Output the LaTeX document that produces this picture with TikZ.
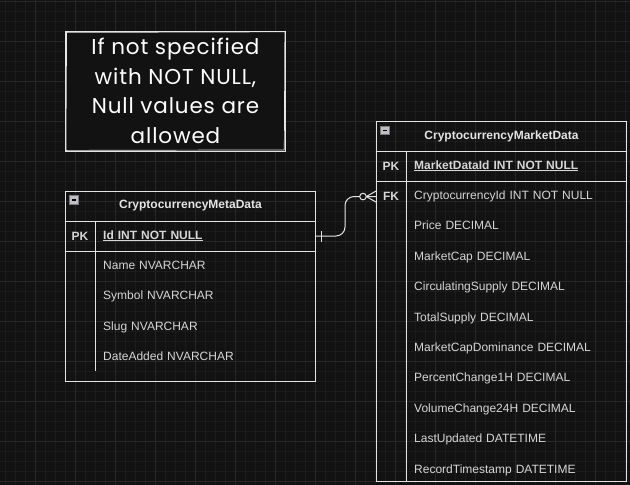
\documentclass[tikz,border=0pt]{standalone}
\usepackage{fontspec}
\setmainfont{Liberation Sans}
\newfontfamily\notefont[LetterSpace=4]{Poppins}
\usetikzlibrary{positioning, calc}
\definecolor{canvas}{RGB}{18,18,18}
\definecolor{gridminor}{RGB}{28,28,28}
\definecolor{gridmajor}{RGB}{40,40,40}
\definecolor{ink}{RGB}{228,228,228}
\definecolor{inktext}{RGB}{214,214,214}
\definecolor{togglefill}{RGB}{190,190,196}
\definecolor{toggleedge}{RGB}{120,120,130}
\tikzset{
    tableframe/.style={draw=ink, line width=1pt},
    title/.style={font=\fontsize{12pt}{14pt}\selectfont\bfseries, text=ink, inner sep=0pt},
    keylabel/.style={font=\fontsize{12pt}{14pt}\selectfont\bfseries, text=inktext, inner sep=0pt},
    field/.style={font=\fontsize{12pt}{14pt}\selectfont, text=inktext, text width=200pt, align=left,
        text height=9pt, text depth=3pt, inner sep=0pt, minimum height=30pt},
    keyfield/.style={field, font=\fontsize{12pt}{14pt}\selectfont\bfseries},
    toggle/.style={draw=toggleedge, fill=togglefill, line width=0.6pt, minimum size=8.5pt, inner sep=0pt,
        path picture={\draw[black, line width=1.3pt] ([xshift=1.8pt]path picture bounding box.west) -- ([xshift=-1.8pt]path picture bounding box.east);}},
    notebox/.style={draw=ink, line width=0.8pt, fill=canvas, align=center, text=white!92,
        font=\notefont\fontsize{21.5pt}{29.5pt}\selectfont, minimum width=220pt, minimum height=120pt},
    sketch/.style={draw=ink!80, line width=0.7pt, line join=round},
    link/.style={draw=ink, line width=1pt}
}

\begin{document}
\begin{tikzpicture}[x=1pt, y=-1pt]
    % canvas and grid
    \fill[canvas] (0,0) rectangle (630,485);
    \useasboundingbox (0,0) rectangle (630,485);
    \foreach \x in {5.7,15.7,...,625.7} \draw[gridminor, line width=0.6pt] (\x,0) -- (\x,485);
    \foreach \y in {1.7,11.7,...,481.7} \draw[gridminor, line width=0.6pt] (0,\y) -- (630,\y);
    \foreach \x in {35.7,75.7,...,595.7} \draw[gridmajor, line width=0.6pt] (\x,0) -- (\x,485);
    \foreach \y in {1.7,41.7,...,481.7} \draw[gridmajor, line width=0.6pt] (0,\y) -- (630,\y);

    % note
    \node (note) [notebox] at (175.5,91) {If not specified\\with NOT NULL,\\Null values are\\allowed};
    \draw[sketch] ($(note.north west)+(1.5pt,-1.8pt)$) -- ($(note.north east)+(-1pt,-1.2pt)$)
        -- ($(note.south east)+(-1.6pt,1.5pt)$) -- ($(note.south west)+(0.8pt,1pt)$) -- cycle;

    % CryptocurrencyMetaData
    \node (meta) [tableframe, minimum width=250pt, minimum height=190pt] at (190.5,286.5) {};
    \node (metatoggle) [toggle] at ([shift={(9pt,-9pt)}]meta.north west) {};
    \node (metatitle) [title] at ([yshift=-15pt]meta.north) {CryptocurrencyMetaData};
    \draw[tableframe] ([yshift=-30pt]meta.north west) -- ([yshift=-30pt]meta.north east);
    \draw[tableframe] ([yshift=-60pt]meta.north west) -- ([yshift=-60pt]meta.north east);
    \draw[tableframe] ([shift={(30pt,-30pt)}]meta.north west) -- ([shift={(30pt,-180pt)}]meta.north west);
    \node (metapk) [keylabel] at ([shift={(15pt,-45pt)}]meta.north west) {PK};
    \node (metaid) [keyfield, anchor=west] at ([shift={(38pt,-45pt)}]meta.north west) {\underline{Id INT NOT NULL}};
    \node (metaname) [field, below=0pt of metaid] {Name NVARCHAR};
    \node (metasymbol) [field, below=0pt of metaname] {Symbol NVARCHAR};
    \node (metaslug) [field, below=0pt of metasymbol] {Slug NVARCHAR};
    \node (metadate) [field, below=0pt of metaslug] {DateAdded NVARCHAR};

    % CryptocurrencyMarketData
    \node (market) [tableframe, minimum width=250pt, minimum height=359.5pt] at (501.5,301.4) {};
    \node (markettoggle) [toggle] at ([shift={(9pt,-9pt)}]market.north west) {};
    \node (markettitle) [title] at ([yshift=-15pt]market.north) {CryptocurrencyMarketData};
    \draw[tableframe] ([yshift=-30pt]market.north west) -- ([yshift=-30pt]market.north east);
    \draw[tableframe] ([yshift=-60pt]market.north west) -- ([yshift=-60pt]market.north east);
    \draw[tableframe] ([shift={(30pt,-30pt)}]market.north west) -- ([xshift=30pt]market.south west);
    \node (marketpk) [keylabel] at ([shift={(15pt,-45pt)}]market.north west) {PK};
    \node (marketfk) [keylabel] at ([shift={(15pt,-75pt)}]market.north west) {FK};
    \node (marketid) [keyfield, anchor=west] at ([shift={(38pt,-45pt)}]market.north west) {\underline{MarketDataId INT NOT NULL}};
    \node (marketcid) [field, below=0pt of marketid] {CryptocurrencyId INT NOT NULL};
    \node (marketprice) [field, below=0pt of marketcid] {Price DECIMAL};
    \node (marketcap) [field, below=0pt of marketprice] {MarketCap DECIMAL};
    \node (marketcirc) [field, below=0pt of marketcap] {CirculatingSupply DECIMAL};
    \node (markettotal) [field, below=0pt of marketcirc] {TotalSupply DECIMAL};
    \node (marketdom) [field, below=0pt of markettotal] {MarketCapDominance DECIMAL};
    \node (marketpct) [field, below=0pt of marketdom] {PercentChange1H DECIMAL};
    \node (marketvol) [field, below=0pt of marketpct] {VolumeChange24H DECIMAL};
    \node (marketupd) [field, below=0pt of marketvol] {LastUpdated DATETIME};
    \node (marketrec) [field, below=0pt of marketupd] {RecordTimestamp DATETIME};

    % relationship: one to zero-or-many
    \coordinate (idend) at (metaid -| meta.east);
    \coordinate (fkend) at (marketcid -| market.west);
    \draw[link, rounded corners=9pt] (idend) -| ($(fkend)+(-31pt,0)$) -- (fkend);
    \draw[link] ($(idend)+(5pt,5.5pt)$) -- ($(idend)+(5pt,-5.5pt)$);
    \draw[link, fill=canvas] ($(fkend)+(-13pt,0)$) circle (3.3pt);
    \draw[link] ($(fkend)+(-9.7pt,0)$) -- ($(fkend)+(0,5.5pt)$);
    \draw[link] ($(fkend)+(-9.7pt,0)$) -- ($(fkend)+(0,-5.5pt)$);
\end{tikzpicture}
\end{document}
